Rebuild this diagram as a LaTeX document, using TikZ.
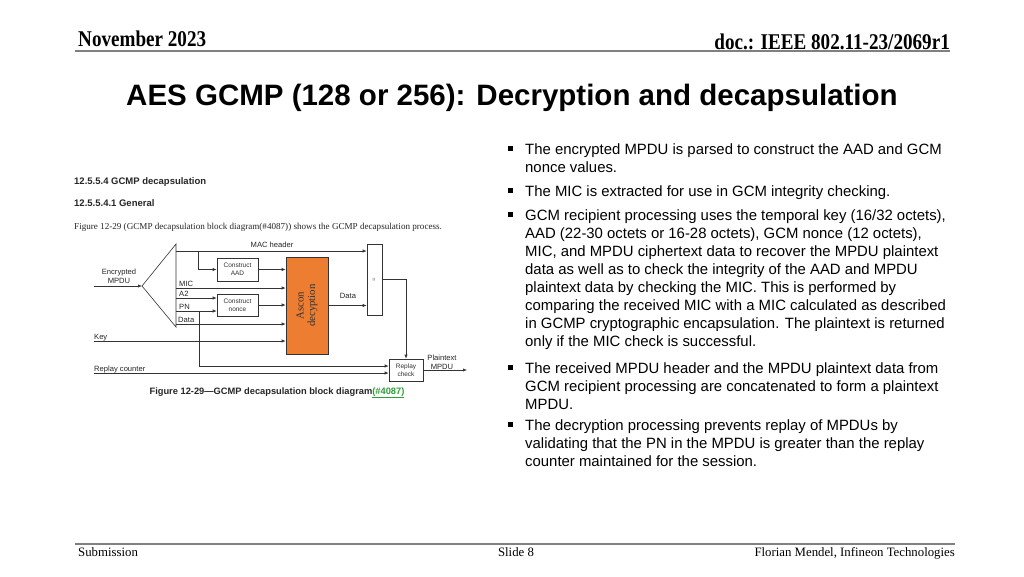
\documentclass[tikz,border=0pt]{standalone}
\usepackage{fontspec}
\setmainfont{Liberation Sans}
\newfontfamily\serif{Liberation Serif}
\newfontfamily\hdr[FakeStretch=0.85]{Liberation Serif}
\usetikzlibrary{arrows.meta}
\definecolor{orng}{HTML}{ED7D31}
\definecolor{lnk}{HTML}{2E9E3A}
\definecolor{dline}{HTML}{333333}
\definecolor{rule}{HTML}{808080}
\begin{document}
\begin{tikzpicture}[x=1pt,y=-1pt,
  lbl/.style={font=\fontsize{7.6}{8.6}\selectfont, inner sep=0, text=black!85},
  box/.style={draw=dline, line width=0.6, fill=white, font=\fontsize{6.5}{7.7}\selectfont, align=center, inner sep=0, text=black!80},
  arr/.style={-{Latex[length=4,width=3.2]}, line width=0.6, draw=dline},
  ln/.style={line width=0.6, draw=dline},
  body/.style={font=\fontsize{14.9}{18}\selectfont, inner sep=0, anchor=base west},
  bul/.style={fill=black, minimum size=5, inner sep=0},
  hrule/.style={draw=rule, line width=1.6}]
\useasboundingbox[fill=white] (0,0) rectangle (1024,576);

% header / footer
\node[font=\hdr\bfseries\fontsize{22.5}{24}\selectfont, anchor=base west, inner sep=0] (date) at (78,46) {November 2023};
\node[font=\hdr\bfseries\fontsize{22.5}{24}\selectfont, anchor=base east, inner sep=0] (doc) at (950,49) {doc.: IEEE 802.11-23/2069r1};
\coordinate (h1) at (75,51); \coordinate (h2) at (950,51);
\draw[hrule] (h1) -- (h2);
\coordinate (f1) at (75,544); \coordinate (f2) at (955,544);
\draw[hrule] (f1) -- (f2);
\node[font=\serif\fontsize{12.8}{14}\selectfont, anchor=base west, inner sep=0] (sub) at (78,556) {Submission};
\node[font=\serif\fontsize{12.8}{14}\selectfont, anchor=base, inner sep=0] (slide) at (516,556) {Slide 8};
\node[font=\serif\fontsize{12.8}{14}\selectfont, anchor=base east, inner sep=0] (auth) at (955,556) {Florian Mendel, Infineon Technologies};

% title
\node[font=\bfseries\fontsize{29.5}{32}\selectfont, anchor=base, inner sep=0] (title) at (512,105) {AES GCMP (128 or 256): Decryption and decapsulation};

% left excerpt
\node[font=\bfseries\fontsize{9.5}{10}\selectfont, anchor=base west, inner sep=0, text=black!85] (sec1) at (74,184) {12.5.5.4 GCMP decapsulation};
\node[font=\bfseries\fontsize{9.5}{10}\selectfont, anchor=base west, inner sep=0, text=black!85] (sec2) at (74,206) {12.5.5.4.1 General};
\node[font=\serif\fontsize{9.1}{10}\selectfont, anchor=base west, inner sep=0, text=black!85] (para) at (74,229) {Figure 12-29 (GCMP decapsulation block diagram(\#4087)) shows the GCMP decapsulation process.};

% diagram
\coordinate (tA) at (142,286); \coordinate (tT) at (176,244); \coordinate (tB) at (176,327);
\draw[ln] (tA) -- (tT) -- (tB) -- cycle;
\node[box, minimum width=41, minimum height=23] (aad) at (237.5,269.5) {Construct\\AAD};
\node[box, minimum width=41, minimum height=22] (nonce) at (237.5,305) {Construct\\nonce};
\node[draw=dline, line width=0.6, fill=orng, minimum width=42, minimum height=97, inner sep=0] (asc) at (307,305.5) {};
\node[rotate=90, align=center, font=\serif\fontsize{10.8}{11.5}\selectfont, text=black!80] (asct) at (asc.center) {Ascon\\decyption};
\node[box, minimum width=15, minimum height=71] (cat) at (374.5,279.5) {};
\node[rotate=90, font=\fontsize{6}{6}\selectfont, inner sep=0, text=black!70] (catt) at (cat.center) {=};
\node[box, minimum width=34, minimum height=22] (rep) at (406,370) {Replay\\check};

\coordinate (encin) at (94,286);
\draw[arr] (encin) -- (tA);
\node[lbl, align=center] (enct) at (119,276) {Encrypted\\MPDU};

\coordinate (mh0) at (176,251); \coordinate (mhb) at (198,251);
\draw[arr] (mh0) -- (cat.west |- mh0);
\node[lbl, anchor=base] (mht) at (272,247) {MAC header};
\draw[arr] (mhb) |- (aad.west);
\draw[arr] (aad.east) -- (aad.east -| asc.west);

\coordinate (mic0) at (176,288);
\draw[arr] (mic0) -- (mic0 -| asc.west);
\node[lbl, anchor=base west] (mict) at (179,286) {MIC};
\coordinate (a20) at (176,298);
\draw[arr] (a20) -- (a20 -| nonce.west);
\node[lbl, anchor=base west] (a2t) at (179,296.5) {A2};
\coordinate (pn0) at (176,311); \coordinate (pnb) at (199,311);
\draw[arr] (pn0) -- (pn0 -| nonce.west);
\node[lbl, anchor=base west] (pnt) at (179,309.5) {PN};
\draw[arr] (pnb) |- ([yshift=4pt]rep.west);
\draw[arr] (nonce.east) -- (nonce.east -| asc.west);
\coordinate (d0) at (176,324);
\draw[arr] (d0) -- (d0 -| asc.west);
\node[lbl, anchor=base west] (dt) at (178,322.5) {Data};

\coordinate (k0) at (94,341);
\draw[arr] (k0) -- (k0 -| asc.west);
\node[lbl, anchor=base west] (kt) at (94,339) {Key};
\coordinate (rc0) at (94,373);
\draw[arr] (rc0) -- ([yshift=-3pt]rep.west);
\node[lbl, anchor=base west] (rct) at (94,371) {Replay counter};

\draw[arr] (asc.east) -- (asc.east -| cat.west);
\node[lbl, anchor=base] (dot) at (348,298) {Data};
\draw[arr] (cat.east) -| (rep.north);
\coordinate (out) at (467,370);
\draw[arr] (rep.east) -- (out);
\node[lbl, align=center] (ptt) at (442,362) {Plaintext\\MPDU};

\node[font=\bfseries\fontsize{9.3}{10}\selectfont, anchor=base, inner sep=0, text=black!85] (cap) at (277,394) {Figure 12-29---GCMP decapsulation block diagram\textcolor{lnk}{\underline{(\#4087)}}};

% bullets
\node[bul] (b1) at (510.5,148) {};
\node[body] (l1) at (525,154) {The encrypted MPDU is parsed to construct the AAD and GCM};
\node[body] (l2) at (525,172) {nonce values.};
\node[bul] (b2) at (510.5,190) {};
\node[body] (l3) at (525,196) {The MIC is extracted for use in GCM integrity checking.};
\node[bul] (b3) at (510.5,214) {};
\node[body] (l4) at (525,220) {GCM recipient processing uses the temporal key (16/32 octets),};
\node[body] (l5) at (525,238) {AAD (22-30 octets or 16-28 octets), GCM nonce (12 octets),};
\node[body] (l6) at (525,256) {MIC, and MPDU ciphertext data to recover the MPDU plaintext};
\node[body] (l7) at (525,274) {data as well as to check the integrity of the AAD and MPDU};
\node[body] (l8) at (525,292) {plaintext data by checking the MIC. This is performed by};
\node[body] (l9) at (525,310) {comparing the received MIC with a MIC calculated as described};
\node[body] (l10) at (525,328) {in GCMP cryptographic encapsulation. The plaintext is returned};
\node[body] (l11) at (525,346) {only if the MIC check is successful.};
\node[bul] (b4) at (510.5,367) {};
\node[body] (l12) at (525,373) {The received MPDU header and the MPDU plaintext data from};
\node[body] (l13) at (525,391) {GCM recipient processing are concatenated to form a plaintext};
\node[body] (l14) at (525,409) {MPDU.};
\node[bul] (b5) at (510.5,424) {};
\node[body] (l15) at (525,430) {The decryption processing prevents replay of MPDUs by};
\node[body] (l16) at (525,448) {validating that the PN in the MPDU is greater than the replay};
\node[body] (l17) at (525,466) {counter maintained for the session.};
\end{tikzpicture}
\end{document}
